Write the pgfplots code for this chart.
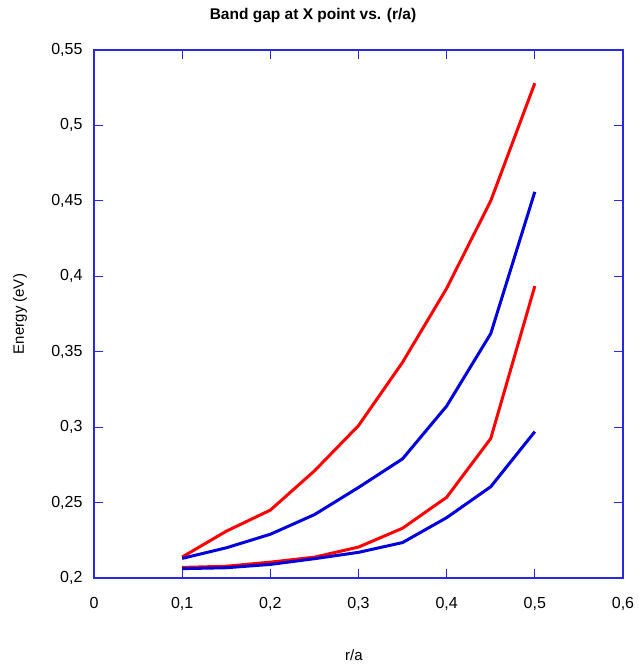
\documentclass[border=0pt]{standalone}
\usepackage{fontspec}
\setmainfont{Liberation Sans}
\usepackage{pgfplots}
\pgfplotsset{compat=1.18}
\usetikzlibrary{calc}
\definecolor{axblue}{RGB}{40,40,235}
\definecolor{lnblue}{RGB}{0,0,220}
\definecolor{lnred}{RGB}{255,0,0}

\begin{document}
\begin{tikzpicture}[x=1pt,y=1pt]
\begin{axis}[
  name=ax,
  scale only axis, width=529pt, height=528pt,
  xmin=0, xmax=0.6, ymin=0.2, ymax=0.55,
  xtick={0,0.1,...,0.6}, ytick={0.2,0.25,...,0.55},
  axis line style={axblue, line width=1.2pt},
  every tick/.style={axblue, line width=1.2pt},
  tick align=inside, major tick length=9pt,
  xtick pos=both, ytick pos=both,
  xticklabel pos=lower, yticklabel pos=left,
  /pgf/number format/use comma,
  /pgf/number format/assume math mode=true,
  tick label style={font=\fontsize{16}{18}\selectfont, black},
  xticklabel style={yshift=-16pt},
  yticklabel style={xshift=-8pt},
]
\addplot[lnred, line width=3pt] coordinates {
(0.1,0.2139)(0.15,0.231)(0.2,0.245)(0.25,0.271)(0.3,0.301)(0.35,0.343)(0.4,0.392)(0.45,0.450)(0.5,0.528)};
\addplot[lnblue, line width=3pt] coordinates {
(0.1,0.213)(0.15,0.22)(0.2,0.229)(0.25,0.242)(0.3,0.26)(0.35,0.279)(0.4,0.314)(0.45,0.362)(0.5,0.456)};
\addplot[lnred, line width=3pt] coordinates {
(0.1,0.207)(0.15,0.2078)(0.2,0.2105)(0.25,0.2138)(0.3,0.2205)(0.35,0.233)(0.4,0.2535)(0.45,0.2925)(0.5,0.3935)};
\addplot[lnblue, line width=3pt] coordinates {
(0.1,0.2062)(0.15,0.2068)(0.2,0.209)(0.25,0.2128)(0.3,0.217)(0.35,0.2235)(0.4,0.240)(0.45,0.2605)(0.5,0.297)};
\end{axis}
\coordinate (O) at ($(ax.south west)+(-94,-92)$);
\node[font=\fontsize{15.5}{18}\selectfont\bfseries] at ($(O)+(313,654)$) {Band gap at X point vs. (r/a)};
\node[font=\fontsize{15}{18}\selectfont, rotate=90] at ($(O)+(20,356)$) {Energy (eV)};
\node[font=\fontsize{15}{18}\selectfont] at ($(O)+(354,15)$) {r/a};
\pgfresetboundingbox
\path[use as bounding box] (O) rectangle ++(639,670);
\end{tikzpicture}
\end{document}
